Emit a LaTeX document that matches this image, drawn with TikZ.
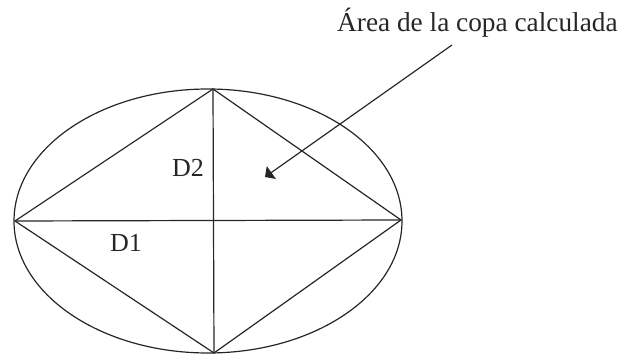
\documentclass[tikz,border=0pt]{standalone}
\usepackage{fontspec}
\setmainfont{Liberation Serif}
\usetikzlibrary{arrows.meta}
\begin{document}
\begin{tikzpicture}[x=1pt,y=-1pt,
  edge/.style={draw=black!85,line width=1.2pt},
  lbl/.style={font=\fontsize{26}{30}\selectfont,text=black!85,inner sep=0pt,anchor=base west},
  pointer/.style={draw=black!85,line width=1.2pt,-{Triangle[angle=90:11pt]}}]
\useasboundingbox (0,0) rectangle (622,358);
% ellipse
\draw[edge] (208,221) ellipse [x radius=194, y radius=132];
% vertices
\coordinate (L) at (15,221);
\coordinate (R) at (401,220);
\coordinate (T) at (213,89);
\coordinate (B) at (214,353);
\draw[edge] (L) -- (T) -- (R) -- (B) -- cycle;
\draw[edge] (L) -- (R);
\draw[edge] (T) -- (B);
% labels
\node[lbl] (d2) at (172,177) {D2};
\node[lbl] (d1) at (110,252) {D1};
\node[lbl,font=\fontsize{27.3}{32}\selectfont] (title) at (337,32) {Área de la copa calculada};
\coordinate (from) at (452,45);
\coordinate (tip) at (265,177);
\draw[pointer] (from) -- (tip);
\end{tikzpicture}
\end{document}
